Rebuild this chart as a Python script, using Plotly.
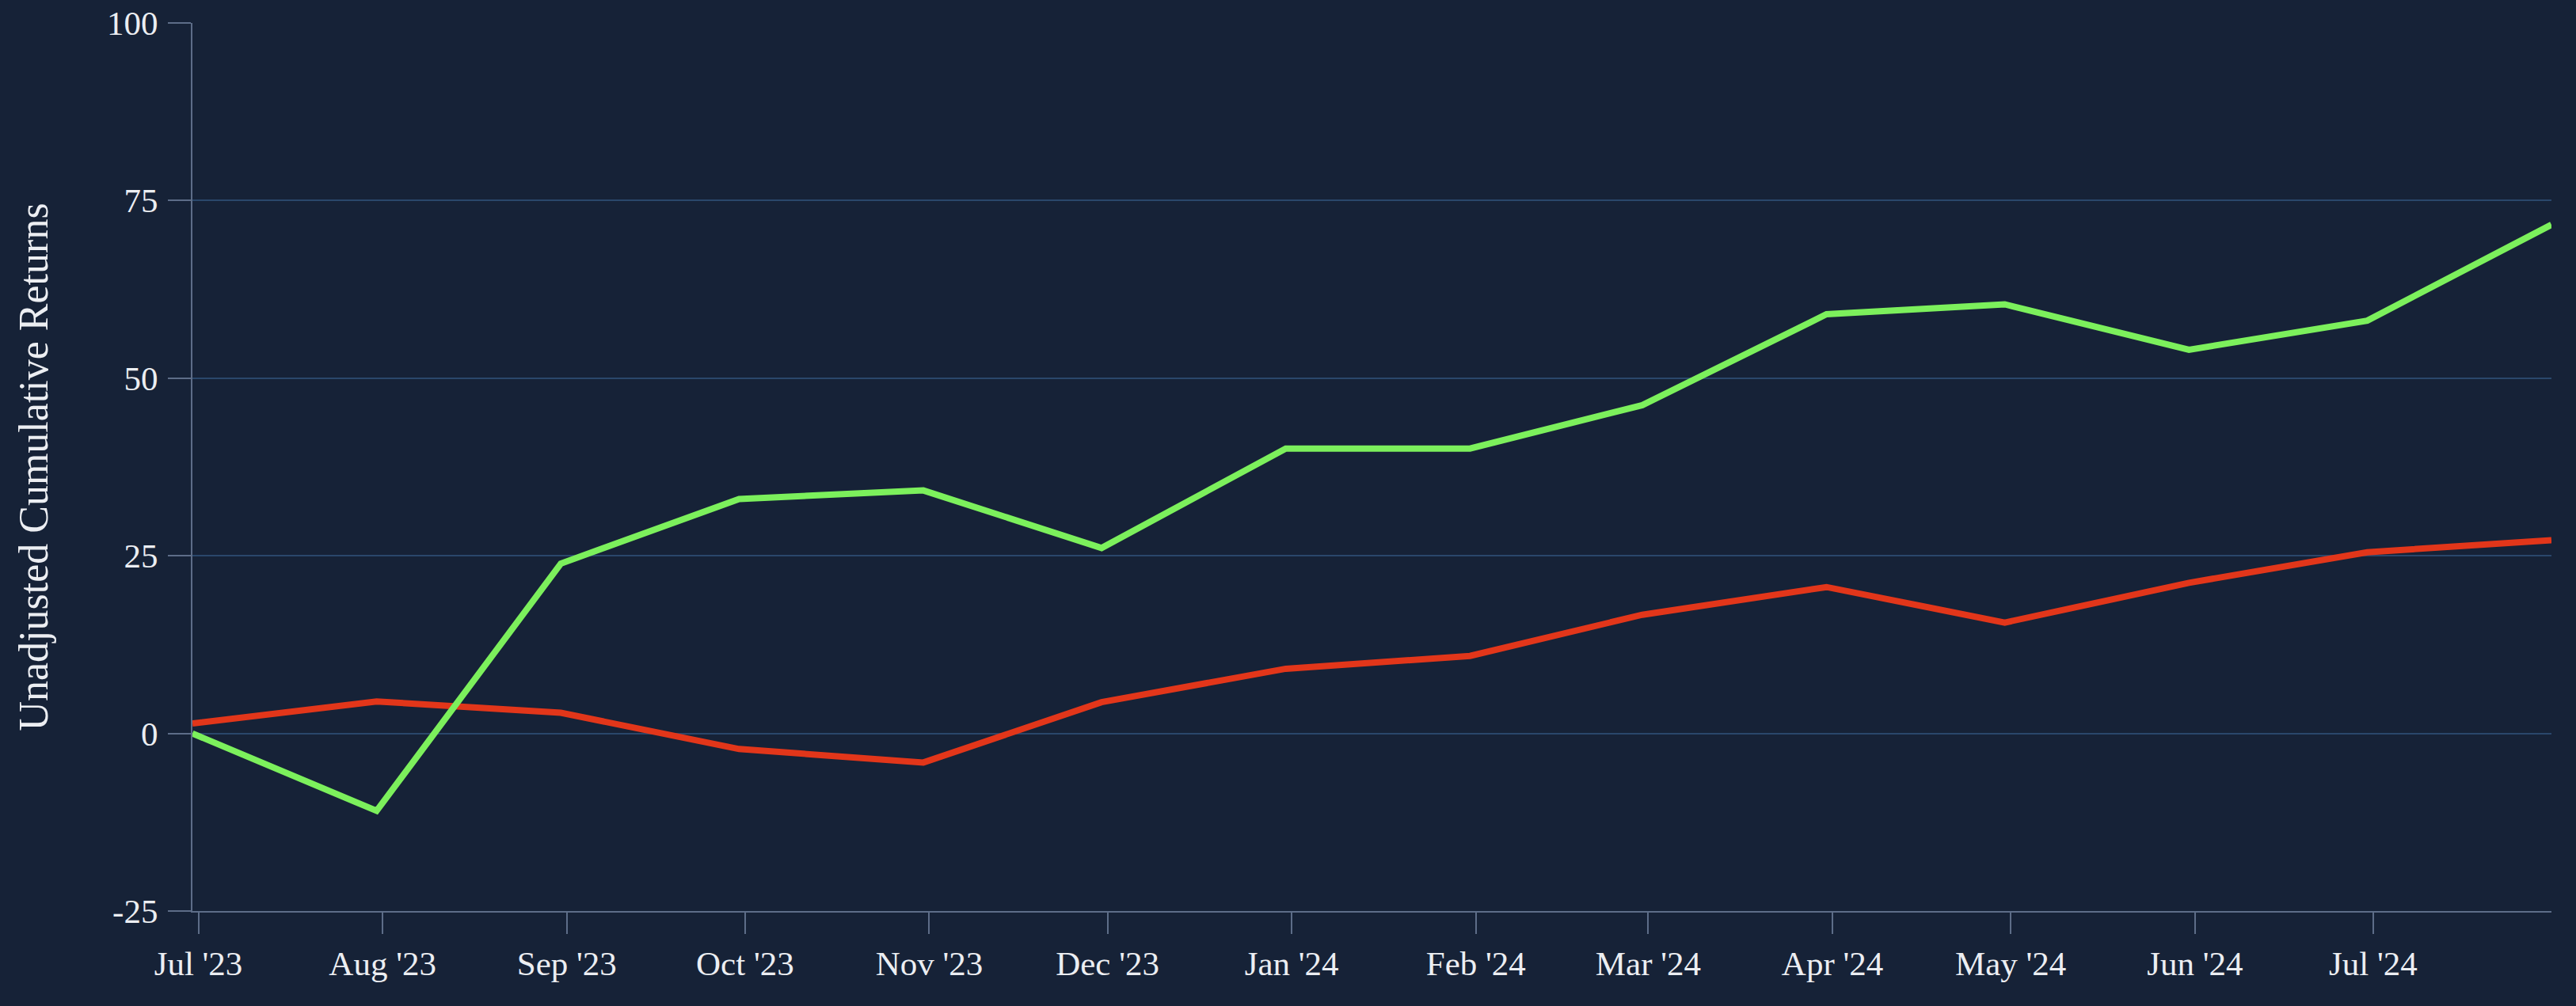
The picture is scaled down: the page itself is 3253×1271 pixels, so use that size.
import plotly.graph_objects as go

dates = ["2023-06-30", "2023-07-31", "2023-08-31", "2023-09-30", "2023-10-31",
         "2023-11-30", "2023-12-31", "2024-01-31", "2024-02-29", "2024-03-31",
         "2024-04-30", "2024-05-31", "2024-06-30", "2024-07-31"]
green_series = [0.0, -10.9, 23.9, 33.0, 34.2, 26.1, 40.1, 40.1, 46.2, 59.0, 60.4, 54.0, 58.1, 71.6]
red_series = [1.4, 4.5, 2.9, -2.2, -4.1, 4.4, 9.1, 10.9, 16.7, 20.6, 15.6, 21.2, 25.5, 27.2]
y_ticks = [-25, 0, 25, 50, 75, 100]
y_tick_text = ["-25", "0", "25", "50", "75", "100"]
y_title = "Unadjusted Cumulative Returns"

BG = "#162237"
GRID = "#2a476b"
AXIS = "#5d6d88"
TEXT = "#eceef2"
FONT = "Liberation Serif, Times New Roman, serif"

fig = go.Figure()
fig.add_trace(go.Scatter(x=dates, y=red_series, mode="lines",
                         line=dict(color="#e2361a", width=8), showlegend=False))
fig.add_trace(go.Scatter(x=dates, y=green_series, mode="lines",
                         line=dict(color="#7cf05c", width=8), showlegend=False))

fig.update_layout(
    width=3253, height=1271,
    paper_bgcolor=BG, plot_bgcolor=BG,
    margin=dict(l=243, r=31, t=29, b=120),
    font=dict(family=FONT, color=TEXT, size=43),
    xaxis=dict(
        type="date", range=[dates[0], dates[-1]], automargin=False,
        dtick="M1", tick0="2023-07-01", tickformat="%b '%y",
        showgrid=False, zeroline=False,
        showline=True, linecolor=AXIS, linewidth=2,
        ticks="outside", ticklen=27, tickcolor=AXIS, tickwidth=2,
        tickfont=dict(size=43, family=FONT, color=TEXT),
    ),
    yaxis=dict(
        range=[-25, 100], tickvals=y_ticks, ticktext=y_tick_text, automargin=False,
        showgrid=True, gridcolor=GRID, gridwidth=2, zeroline=False,
        showline=True, linecolor=AXIS, linewidth=2,
        ticks="outside", ticklen=29, tickcolor=AXIS, tickwidth=2,
        tickfont=dict(size=43, family=FONT, color=TEXT),
        ticklabelstandoff=4,
        title=dict(text=y_title, font=dict(size=52, family=FONT, color=TEXT), standoff=58),
    ),
)

fig.write_html("out.html", config={"displayModeBar": False},
               post_script="document.body.style.margin='0';")
